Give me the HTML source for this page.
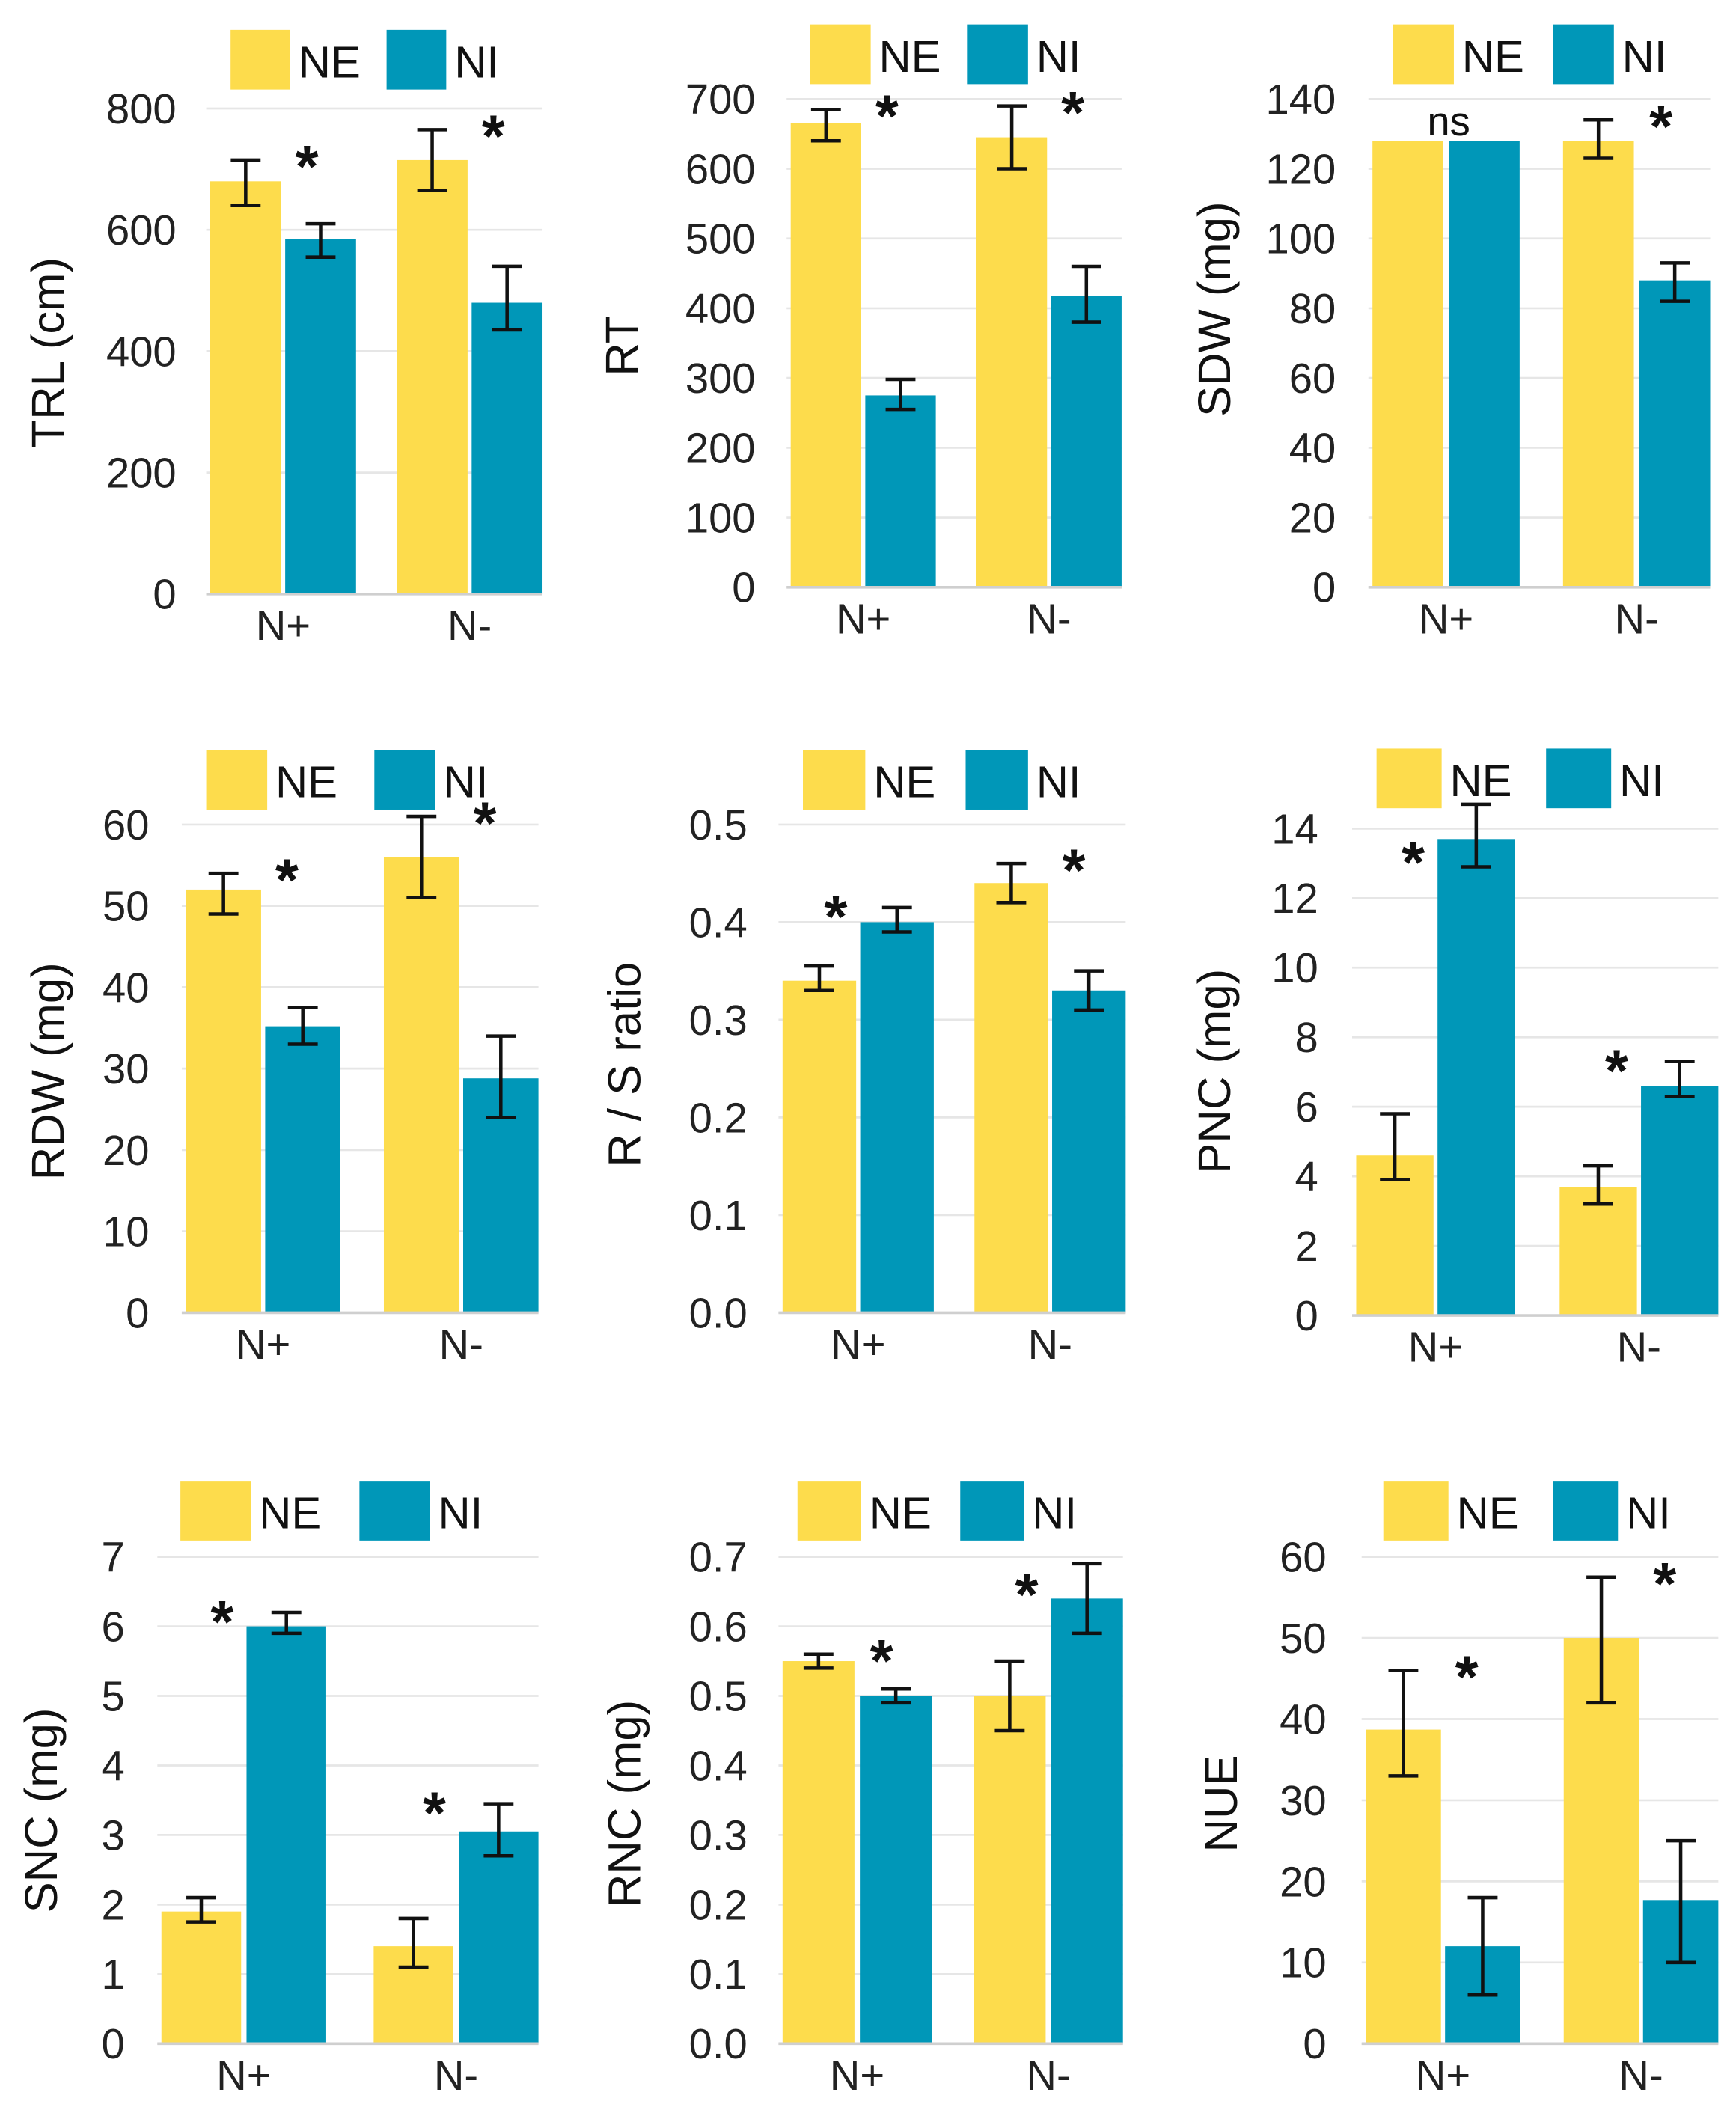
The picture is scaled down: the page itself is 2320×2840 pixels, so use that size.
<!DOCTYPE html>
<html><head><meta charset="utf-8">
<style>
html,body{margin:0;padding:0;background:#fff;}
svg{display:block;font-family:"Liberation Sans",sans-serif;}
</style></head>
<body>
<svg id="chart" width="2320" height="2840" viewBox="0 0 1280 1567" xmlns="http://www.w3.org/2000/svg"></svg>
<script>
// ---- data ----
const categories = ["N+", "N-"];
const seriesNames = ["NE", "NI"];
const trlNE = [680, 715], trlNI = [585, 480];
const trlNEerr = [[640,715],[665,765]], trlNIerr = [[555,610],[435,540]];
const trlSig = ["*","*"];
const rtNE = [665, 645], rtNI = [275, 418];
const rtNEerr = [[640,685],[600,690]], rtNIerr = [[255,298],[380,460]];
const rtSig = ["*","*"];
const sdwNE = [128, 128], sdwNI = [128, 88];
const sdwNEerr = [null,[123,134]], sdwNIerr = [null,[82,93]];
const sdwSig = ["ns","*"];
const rdwNE = [52, 56], rdwNI = [35.2, 28.8];
const rdwNEerr = [[49,54],[51,61]], rdwNIerr = [[33,37.5],[24,34]];
const rdwSig = ["*","*"];
const rsNE = [0.34, 0.44], rsNI = [0.40, 0.33];
const rsNEerr = [[0.33,0.355],[0.42,0.46]], rsNIerr = [[0.39,0.415],[0.31,0.35]];
const rsSig = ["*","*"];
const pncNE = [4.6, 3.7], pncNI = [13.7, 6.6];
const pncNEerr = [[3.9,5.8],[3.2,4.3]], pncNIerr = [[12.9,14.7],[6.3,7.3]];
const pncSig = ["*","*"];
const sncNE = [1.9, 1.4], sncNI = [6.0, 3.05];
const sncNEerr = [[1.75,2.1],[1.1,1.8]], sncNIerr = [[5.9,6.2],[2.7,3.45]];
const sncSig = ["*","*"];
const rncNE = [0.55, 0.50], rncNI = [0.50, 0.64];
const rncNEerr = [[0.54,0.56],[0.45,0.55]], rncNIerr = [[0.49,0.51],[0.59,0.69]];
const rncSig = ["*","*"];
const nueNE = [38.7, 50], nueNI = [12, 17.7];
const nueNEerr = [[33,46],[42,57.5]], nueNIerr = [[6,18],[10,25]];
const nueSig = ["*","*"];
const trlTicks=[0,200,400,600,800], rtTicks=[0,100,200,300,400,500,600,700], sdwTicks=[0,20,40,60,80,100,120,140];
const rdwTicks=[0,10,20,30,40,50,60], rsTicks=["0.0","0.1","0.2","0.3","0.4","0.5"], pncTicks=[0,2,4,6,8,10,12,14];
const sncTicks=[0,1,2,3,4,5,6,7], rncTicks=["0.0","0.1","0.2","0.3","0.4","0.5","0.6","0.7"], nueTicks=[0,10,20,30,40,50,60];

// ---- layout (positions only) ----
const panels = [
 {id:"trl",label:"TRL (cm)",ne:trlNE,ni:trlNI,neE:trlNEerr,niE:trlNIerr,sig:trlSig,ticks:trlTicks,x0:155,x1:400,inner:3,outer:30,yB:438,yT:80,lx:35,ly:260,tx:130,legY:22,legNE:170,legNI:285,legW:44,xl:472},
 {id:"rt",label:"RT",ne:rtNE,ni:rtNI,neE:rtNEerr,niE:rtNIerr,sig:rtSig,ticks:rtTicks,x0:583,x1:827,inner:3,outer:30,yB:433,yT:73,lx:458,ly:255,tx:557,legY:18,legNE:597,legNI:713,legW:45,xl:467},
 {id:"sdw",label:"SDW (mg)",ne:sdwNE,ni:sdwNI,neE:sdwNEerr,niE:sdwNIerr,sig:sdwSig,ticks:sdwTicks,x0:1012,x1:1261,inner:4,outer:32,yB:433,yT:73,lx:895,ly:228,tx:985,legY:18,legNE:1027,legNI:1145,legW:45,xl:467},
 {id:"rdw",label:"RDW (mg)",ne:rdwNE,ni:rdwNI,neE:rdwNEerr,niE:rdwNIerr,sig:rdwSig,ticks:rdwTicks,x0:137,x1:397,inner:3,outer:32,yB:968,yT:608,lx:35,ly:790,tx:110,legY:553,legNE:152,legNI:276,legW:45,xl:1002},
 {id:"rs",label:"R / S ratio",ne:rsNE,ni:rsNI,neE:rsNEerr,niE:rsNIerr,sig:rsSig,ticks:rsTicks,x0:577,x1:830,inner:3,outer:30,yB:968,yT:608,lx:460,ly:785,tx:551,legY:553,legNE:592,legNI:712,legW:46,xl:1002},
 {id:"pnc",label:"PNC (mg)",ne:pncNE,ni:pncNI,neE:pncNEerr,niE:pncNIerr,sig:pncSig,ticks:pncTicks,x0:1000,x1:1267,inner:3,outer:33,yB:970,yT:611,lx:895,ly:790,tx:972,legY:552,legNE:1015,legNI:1140,legW:48,xl:1004},
 {id:"snc",label:"SNC (mg)",ne:sncNE,ni:sncNI,neE:sncNEerr,niE:sncNIerr,sig:sncSig,ticks:sncTicks,x0:119,x1:397,inner:4,outer:35,yB:1507,yT:1148,lx:30,ly:1335,tx:92,legY:1092,legNE:133,legNI:265,legW:52,xl:1541},
 {id:"rnc",label:"RNC (mg)",ne:rncNE,ni:rncNI,neE:rncNEerr,niE:rncNIerr,sig:rncSig,ticks:rncTicks,x0:577,x1:828,inner:4,outer:31,yB:1507,yT:1148,lx:460,ly:1330,tx:551,legY:1092,legNE:588,legNI:708,legW:47,xl:1541},
 {id:"nue",label:"NUE",ne:nueNE,ni:nueNI,neE:nueNEerr,niE:nueNIerr,sig:nueSig,ticks:nueTicks,x0:1007,x1:1267,inner:3,outer:32,yB:1507,yT:1148,lx:900,ly:1330,tx:978,legY:1092,legNE:1020,legNI:1145,legW:48,xl:1541}
];
const YEL="#FDDC4C", TEAL="#0097B8";
const svg=document.getElementById("chart");
const NS="http://www.w3.org/2000/svg";
function mk(tag,attrs,parent,text){const e=document.createElementNS(NS,tag);for(const k in attrs)e.setAttribute(k,attrs[k]);if(text!==undefined)e.textContent=text;parent.appendChild(e);return e;}

panels.forEach(p=>{
 const g=mk("g",{},svg);
 
 
 const tickVals=p.ticks.map(Number);
 const maxV=tickVals[tickVals.length-1];
 const y=v=>p.yB-(v/maxV)*(p.yB-p.yT);
 p.ticks.forEach(t=>{
  const yy=y(Number(t));
  const ln=mk("line",{x1:p.x0-3,x2:p.x1,y1:yy,y2:yy,stroke:"#e6e6e6","stroke-width":1.5},g);
  
  
  const tl=mk("text",{x:p.tx,y:yy+11,"text-anchor":"end","font-size":31,fill:"#222"},g,String(t));
  
  
 });
 const al=mk("text",{x:p.lx,y:p.ly,"text-anchor":"middle","font-size":34,fill:"#111",transform:`rotate(-90 ${p.lx} ${p.ly})`,dy:12},g,p.label);
 
 
 const bw=(p.x1-p.x0-2*p.inner-p.outer)/4;
 categories.forEach((c,i)=>{
  const gx=p.x0+i*(2*bw+p.inner+p.outer);
  [[p.ne,p.neE,YEL,"ne"],[p.ni,p.niE,TEAL,"ni"]].forEach((s,j)=>{
   const bx=gx+j*(bw+p.inner);
   const v=s[0][i];
   const r=mk("rect",{x:bx,y:y(v),width:bw,height:p.yB-y(v),fill:s[2]},g);
   
   
   const e=s[1][i];
   if(e){
    const cx=bx+bw/2;
    const eg=mk("g",{stroke:"#111","stroke-width":2.5,fill:"none"},g);
    
    
    mk("line",{x1:cx,x2:cx,y1:y(e[0]),y2:y(e[1])},eg);
    mk("line",{x1:cx-11,x2:cx+11,y1:y(e[0]),y2:y(e[0])},eg);
    mk("line",{x1:cx-11,x2:cx+11,y1:y(e[1]),y2:y(e[1])},eg);
   }
  });
  const niX=gx+bw+p.inner;
  const neTop=p.neE[i]?p.neE[i][1]:p.ne[i];
  const niTop=p.niE[i]?p.niE[i][1]:p.ni[i];
  const sig=p.sig[i];
  let sx,sy;
  if(sig==="ns"){sx=niX;sy=y(Math.max(neTop,niTop))-4;}
  else if(niTop>neTop){
   sx=niX-18; sy=Math.max(y(niTop)+22, p.legY+44+55);
  } else {
   sx=niX+16; sy=y(neTop)+20;
  }
  const st=mk("text",{x:sx,y:sy,"text-anchor":"middle","font-size":sig==="ns"?30:44,"font-weight":sig==="ns"?"normal":"bold",fill:"#111"},g,sig);
  
  
  const xl=mk("text",{x:gx+bw+p.inner/2,y:p.xl,"text-anchor":"middle","font-size":31,fill:"#222"},g,c);
  
  
 });
 const base=mk("line",{x1:p.x0-3,x2:p.x1,y1:p.yB,y2:p.yB,stroke:"#cfcfcf","stroke-width":2},g);
 
 
 [[p.legNE,YEL,seriesNames[0]],[p.legNI,TEAL,seriesNames[1]]].forEach(l=>{
  const lr=mk("rect",{x:l[0],y:p.legY,width:p.legW,height:44,fill:l[1]},g);
  
  
  const lt=mk("text",{x:l[0]+p.legW+6,y:p.legY+35,"font-size":33,fill:"#111"},g,l[2]);
  
  
 });
});
</script>
</body></html>
